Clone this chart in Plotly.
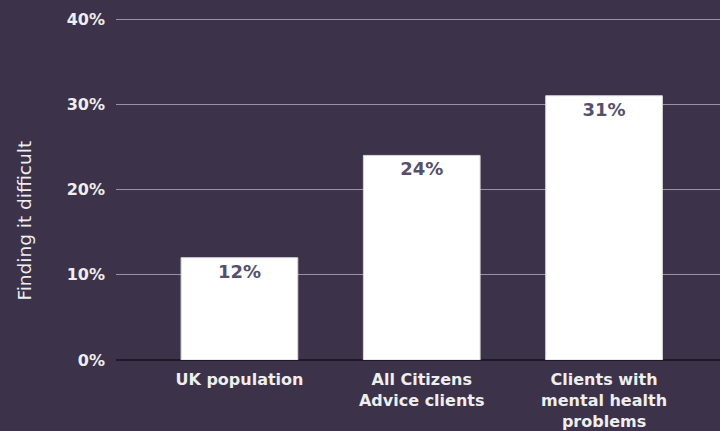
import plotly.graph_objects as go

categories = ["UK population", "All Citizens<br>Advice clients", "Clients with<br>mental health<br>problems"]
values = [12, 24, 31]
labels = ["12%", "24%", "31%"]
tick_vals = [0, 10, 20, 30, 40]
tick_text = ["0%", "10%", "20%", "30%", "40%"]

BG = "#3c3249"
FONT = "DejaVu Sans, Arial, sans-serif"

fig = go.Figure(go.Bar(
    x=[0, 1, 2], y=values, text=labels,
    textposition="inside", insidetextanchor="end",
    textfont=dict(family=FONT, size=18, color="#57506a"),
    marker=dict(color="#ffffff", line=dict(color="#d8d8d8", width=1)),
    width=0.64, textangle=0,
))
fig.update_traces(texttemplate="<b>%{text}</b>")

fig.update_layout(
    width=720, height=431,
    paper_bgcolor=BG, plot_bgcolor=BG,
    margin=dict(l=116, r=0, t=18, b=71),
    showlegend=False,
    font=dict(family=FONT, color="#eeeeee"),
    xaxis=dict(
        range=[-0.677, 2.636], tickmode="array", tickvals=[0, 1, 2],
        ticktext=["<b>" + c.replace("<br>", "</b><br><b>") + "</b>" for c in categories],
        showgrid=False, zeroline=False, showline=False, ticks="",
        ticklabelstandoff=8,
        tickfont=dict(family=FONT, size=16, color="#eeeeee"),
    ),
    yaxis=dict(
        range=[0, 40.12], tickmode="array", tickvals=tick_vals,
        ticktext=["<b>" + t + "</b>" for t in tick_text],
        showgrid=True, gridcolor="#9a94a2", gridwidth=1,
        zeroline=True, zerolinecolor="#1e1a24", zerolinewidth=2,
        showline=False, ticks="", ticklabelstandoff=10,
        tickfont=dict(family=FONT, size=16, color="#eeeeee"),
    ),
    annotations=[dict(
        text="Finding it difficult", textangle=-90,
        xref="paper", yref="paper", x=-0.1507, y=0.4076,
        showarrow=False, font=dict(family=FONT, size=18.5, color="#eeeeee"),
        xanchor="center", yanchor="middle",
    )],
    bargap=0.36,
)

fig.write_html("out.html", config={"displayModeBar": False},
               post_script="document.body.style.margin='0';")
